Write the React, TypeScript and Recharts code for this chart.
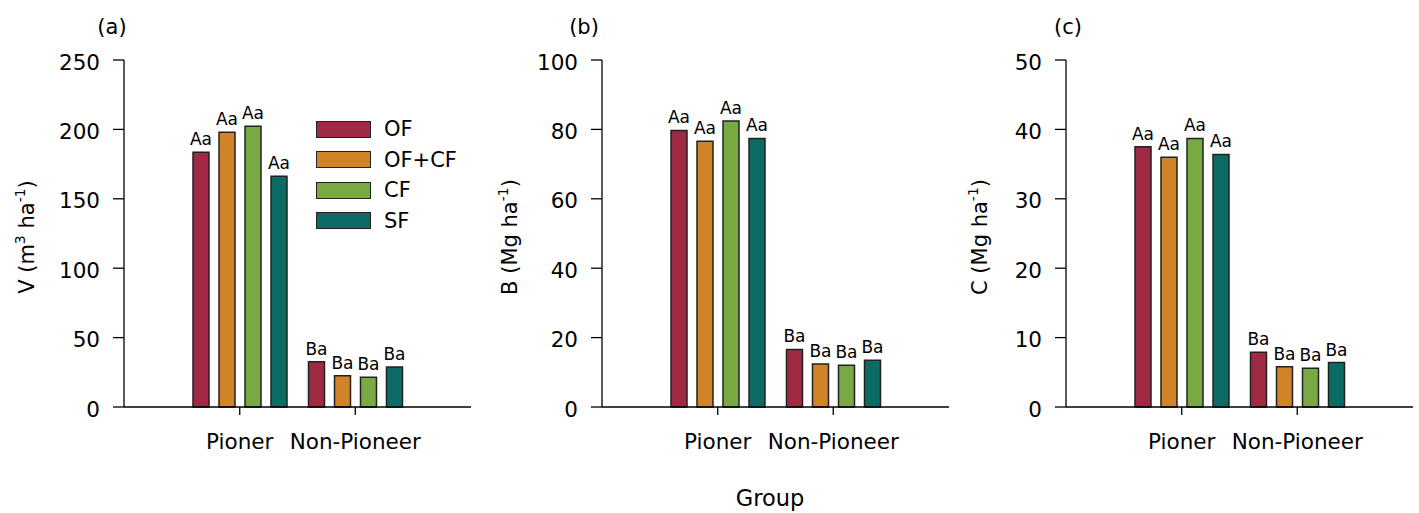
import React from 'react';
import { BarChart, Bar, XAxis, YAxis, LabelList, Legend } from 'recharts';

const categories = ['Pioner', 'Non-Pioneer'];
const seriesNames = ['OF', 'OF+CF', 'CF', 'SF'];
const seriesColors = ['#9E2A43', '#D08427', '#78A942', '#0D6B66'];
const letters = ['Aa', 'Ba'];

// Panel (a): volume V
const vOF = [183.5, 32.6];
const vOFCF = [197.9, 22.6];
const vCF = [202.2, 21.4];
const vSF = [166.2, 28.8];
const vTicks = [0, 50, 100, 150, 200, 250];

// Panel (b): biomass B
const bOF = [79.7, 16.6];
const bOFCF = [76.6, 12.4];
const bCF = [82.4, 12.0];
const bSF = [77.4, 13.5];
const bTicks = [0, 20, 40, 60, 80, 100];

// Panel (c): carbon C
const cOF = [37.5, 7.9];
const cOFCF = [36.0, 5.8];
const cCF = [38.7, 5.6];
const cSF = [36.4, 6.4];
const cTicks = [0, 10, 20, 30, 40, 50];

const FONT = '"DejaVu Sans", Verdana, sans-serif';

function buildRows(s: number[][]) {
  return categories.map((c, i) => ({
    name: c,
    s0: s[0][i],
    s1: s[1][i],
    s2: s[2][i],
    s3: s[3][i],
    lab: letters[i],
  }));
}

const dataA = buildRows([vOF, vOFCF, vCF, vSF]);
const dataB = buildRows([bOF, bOFCF, bCF, bSF]);
const dataC = buildRows([cOF, cOFCF, cCF, cSF]);

const LegendBox = () => (
  <div style={{ fontFamily: FONT }}>
    {seriesNames.map((n, i) => (
      <div
        key={n}
        style={{ display: 'flex', alignItems: 'center', height: 18, marginBottom: i < 3 ? 12.5 : 0 }}
      >
        <div
          style={{
            width: 53,
            height: 15,
            background: seriesColors[i],
            border: '1.5px solid #222',
          }}
        />
        <span style={{ marginLeft: 13, fontSize: 21, lineHeight: '18px', color: '#000' }}>{n}</span>
      </div>
    ))}
  </div>
);

type YLab = { main: string; sup1?: string; mid: string; sup2: string; tail: string };

function makeYLabel(x: number, y: number, l: YLab) {
  return () => (
    <text
      x={x}
      y={y}
      transform={`rotate(-90, ${x}, ${y})`}
      textAnchor="middle"
      fontFamily={FONT}
      fontSize={21}
      fill="#000"
    >
      {l.main}
      {l.sup1 ? (
        <tspan dy={-9} fontSize={14}>
          {l.sup1}
        </tspan>
      ) : null}
      <tspan dy={l.sup1 ? 9 : 0}>{l.mid}</tspan>
      <tspan dy={-9} fontSize={14}>
        {l.sup2}
      </tspan>
      <tspan dy={9}>{l.tail}</tspan>
    </text>
  );
}

type PanelProps = {
  data: any[];
  left: number;
  width: number;
  marginLeft: number;
  marginRight: number;
  domainMax: number;
  ticks: number[];
  yLabel: () => React.ReactElement;
  showLegend?: boolean;
};

const Panel = ({ data, left, width, marginLeft, marginRight, domainMax, ticks, yLabel, showLegend }: PanelProps) => (
  <div style={{ position: 'absolute', left, top: 0 }}>
    <BarChart
      width={width}
      height={513}
      data={data}
      margin={{ top: 60, bottom: 46, left: marginLeft, right: marginRight }}
      barSize={16}
      barGap={10}
    >
      <XAxis
        dataKey="name"
        padding={{ left: 58, right: 58 }}
        tickSize={8}
        tickMargin={19}
        height={60}
        axisLine={{ stroke: '#000', strokeWidth: 1.3 }}
        tickLine={{ stroke: '#000', strokeWidth: 1.3 }}
        tick={{ fill: '#000', fontSize: 21.5, fontFamily: FONT }}
      />
      <YAxis
        width={60}
        domain={[0, domainMax]}
        ticks={ticks}
        interval={0}
        tickSize={11}
        tickMargin={13}
        axisLine={{ stroke: '#000', strokeWidth: 1.3 }}
        tickLine={{ stroke: '#000', strokeWidth: 1.3 }}
        tick={{ fill: '#000', fontSize: 21.5, fontFamily: FONT, dy: 2 }}
        label={{ content: yLabel }}
      />
      {showLegend ? (
        <Legend
          layout="horizontal"
          verticalAlign="middle"
          align="center"
          content={() => <LegendBox />}
          wrapperStyle={{ position: 'absolute', left: 316, top: 120, width: 150 }}
        />
      ) : null}
      {[0, 1, 2, 3].map((i) => (
        <Bar
          key={i}
          dataKey={`s${i}`}
          name={seriesNames[i]}
          fill={seriesColors[i]}
          stroke="#222"
          strokeWidth={1.5}
          isAnimationActive={false}
        >
          <LabelList
            dataKey="lab"
            position="top"
            offset={7}
            style={{ fill: '#000', fontSize: 17, fontFamily: FONT }}
          />
        </Bar>
      ))}
    </BarChart>
  </div>
);

const titleStyle: React.CSSProperties = {
  position: 'absolute',
  top: 17,
  fontFamily: FONT,
  fontSize: 21,
  lineHeight: '20px',
  color: '#000',
  transform: 'translateX(-50%)',
  whiteSpace: 'nowrap',
};

export default function App() {
  return (
    <div style={{ position: 'absolute', left: 0, top: 0, width: 1419, height: 513, background: '#fff' }}>
      <Panel
        data={dataA}
        left={0}
        width={480}
        marginLeft={64}
        marginRight={9}
        domainMax={250}
        ticks={vTicks}
        yLabel={makeYLabel(34, 237, { main: 'V (m', sup1: '3', mid: '  ha', sup2: '-1', tail: ')' })}
        showLegend
      />
      <Panel
        data={dataB}
        left={480}
        width={470}
        marginLeft={62}
        marginRight={1}
        domainMax={100}
        ticks={bTicks}
        yLabel={makeYLabel(37, 237, { main: 'B (Mg', mid: ' ha', sup2: '-1', tail: ')' })}
      />
      <Panel
        data={dataC}
        left={950}
        width={469}
        marginLeft={56}
        marginRight={6}
        domainMax={50}
        ticks={cTicks}
        yLabel={makeYLabel(37, 237, { main: 'C (Mg', mid: ' ha', sup2: '-1', tail: ')' })}
      />
      <div style={{ ...titleStyle, left: 112 }}>(a)</div>
      <div style={{ ...titleStyle, left: 584 }}>(b)</div>
      <div style={{ ...titleStyle, left: 1068 }}>(c)</div>
      <div style={{ ...titleStyle, top: 488, fontSize: 22.5, left: 770 }}>Group</div>
    </div>
  );
}
